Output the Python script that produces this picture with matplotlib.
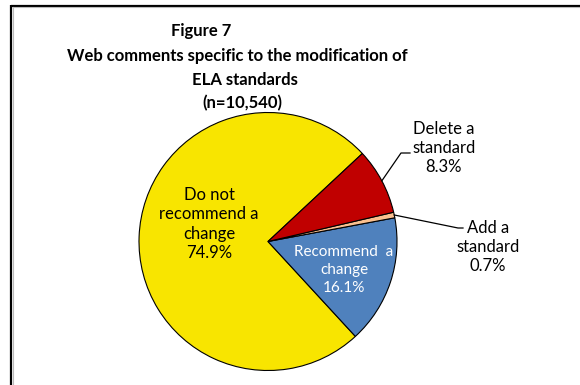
import numpy as np
import matplotlib
matplotlib.use("Agg")
import matplotlib.pyplot as plt
from matplotlib.patches import Wedge

plt.rcParams["font.family"] = ["Lato", "DejaVu Sans"]

# Web comment shares (percent), counter-clockwise from the upper right
labels = ["Do not\nrecommend a\nchange", "Recommend  a\nchange", "Add a\nstandard", "Delete a\nstandard"]
shares = [74.9, 16.1, 0.7, 8.3]
colors = ["#F8E500", "#4F81BD", "#FAC090", "#C00000"]
title_lines = ["Figure 7", "Web comments specific to the modification of", "ELA standards", "(n=10,540)"]

W, H = 580, 385
fig = plt.figure(figsize=(W / 100, H / 100), dpi=100)
ax = fig.add_axes([0, 0, 1, 1])
ax.set_xlim(0, W)
ax.set_ylim(H, 0)
ax.axis("off")

# chart frame (only top and left edges fall inside the image)
ax.plot([11, W + 5], [5.5, 5.5], color="black", lw=1.6, solid_capstyle="butt")
ax.plot([11, 11], [5, H + 5], color="black", lw=1.6, solid_capstyle="butt")
ax.plot([13, W + 5], [7.2, 7.2], color="#BBBBBB", lw=0.8)
ax.plot([12.8, 12.8], [7, H + 5], color="#BBBBBB", lw=0.8)

# title
tx = [201, 237, 245, 242]
ty = [31, 56, 80, 103]
for s, x, y in zip(title_lines, tx, ty):
    ax.text(x, y, s, ha="center", va="center", fontsize=12, fontweight="bold")

# pie, drawn on a y-down axis so angles are mirrored
cx, cy, r = 268, 241.5, 129
start = 43
fr = np.array(shares) / sum(shares)
edges = start + 360 * np.concatenate([[0], np.cumsum(fr)])
for i, c in enumerate(colors):
    a0, a1 = edges[i], edges[i + 1]
    ax.add_patch(Wedge((cx, cy), r, -a1, -a0, facecolor=c, edgecolor="black", lw=0.8))
mids = (edges[:-1] + edges[1:]) / 2

fs = 12
pct = [f"{v:.1f}%" for v in shares]
# inside labels
ax.text(209, 224, f"{labels[0]}\n{pct[0]}", ha="center", va="center", fontsize=fs,
        linespacing=1.25, color="black")
ax.text(344, 270, f"{labels[1]}\n{pct[1]}", ha="center", va="center", fontsize=11,
        linespacing=1.35, color="white")
# outside labels with leader lines
for i, (lx, ly, ex, ey, hl) in zip([3, 2], [(444, 148, 401, 153, 9), (488, 247, 458, 228, 5)]):
    th = np.radians(mids[i])
    sx, sy = cx + r * np.cos(th), cy - r * np.sin(th)
    ax.plot([sx, ex, ex + hl], [sy, ey, ey], color="black", lw=0.9)
    ax.text(lx, ly, f"{labels[i]}\n{pct[i]}", ha="center", va="center", fontsize=fs,
            linespacing=1.25, color="black")

fig.savefig("out.png", dpi=100)
